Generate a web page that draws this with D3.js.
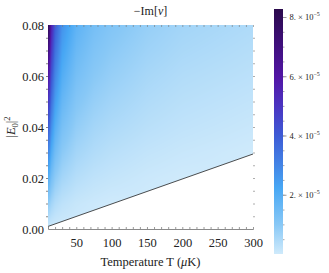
<!DOCTYPE html>
<html>
<head>
<meta charset="utf-8">
<script src="https://cdn.jsdelivr.net/npm/d3@7/dist/d3.min.js"></script>
<style>
  body { margin: 0; background: #fff; }
  svg { display: block; }
  svg text { font-family: "Liberation Serif", "DejaVu Serif", serif; }
</style>
</head>
<body>
<svg id="chart" width="329" height="273"></svg>
<script>
// temperatures (uK) of the sampled columns
const tempK = [10, 12, 15, 20, 30, 50, 75, 100, 150, 200, 300];
// |E0|^2 of the sampled rows
const e0sq = [0, 0.01, 0.02, 0.03, 0.04, 0.05, 0.06, 0.07, 0.08];
// -Im[nu] in units of 1e-5, one array per temperature (rows follow e0sq)
const imNu = [
  [0, 0.93, 1.97, 3.01, 4.05, 5.09, 6.12, 7.16, 8.2],
  [0, 0.81, 1.74, 2.67, 3.59, 4.52, 5.44, 6.37, 7.3],
  [0, 0.61, 1.32, 2.03, 2.75, 3.46, 4.17, 4.88, 5.6],
  [0, 0.41, 0.92, 1.44, 1.95, 2.46, 2.98, 3.49, 4.0],
  [0, 0.25, 0.60, 0.95, 1.30, 1.65, 2.00, 2.35, 2.7],
  [0, 0.12, 0.36, 0.60, 0.84, 1.08, 1.32, 1.56, 1.8],
  [0, 0.05, 0.23, 0.42, 0.60, 0.79, 0.98, 1.16, 1.35],
  [0, 0, 0.16, 0.31, 0.47, 0.63, 0.79, 0.94, 1.1],
  [0, 0, 0.06, 0.18, 0.31, 0.43, 0.55, 0.68, 0.8],
  [0, 0, 0, 0.10, 0.21, 0.31, 0.41, 0.52, 0.62],
  [0, 0, 0, 0, 0.09, 0.18, 0.27, 0.36, 0.45]
];
// boundary line (below it the quantity is not defined)
const edgeT = [10, 300];
const edgeE = [0.001, 0.0294];

const xTicks = [50, 100, 150, 200, 250, 300];
const yTicks = [0, 0.02, 0.04, 0.06, 0.08];
const cbTicks = [2, 4, 6, 8];
const cbMax = 8.27;

const svg = d3.select("#chart");
const x = d3.scaleLinear().domain([10, 300]).range([48, 253]);
const y = d3.scaleLinear().domain([0, 0.08]).range([229, 25]);

// colour map, light -> dark
const cStops = ["#cfeafb", "#88c8f6", "#47a7f4", "#4385e6", "#3d5cd6", "#4a35c2", "#5216a6", "#3e0f7a", "#2b0a4c"];
const cPos = [0, 0.12, 0.27, 0.36, 0.48, 0.6, 0.72, 0.86, 1];
const color = d3.scaleLinear().domain(cPos.map(p => p * cbMax)).range(cStops).clamp(true);

// look up a value in the sampled table
function valueAt(t, e) {
  let i = Math.min(Math.max(d3.bisectRight(tempK, t) - 1, 0), tempK.length - 2);
  let j = Math.min(Math.max(d3.bisectRight(e0sq, e) - 1, 0), e0sq.length - 2);
  const ft = (t - tempK[i]) / (tempK[i + 1] - tempK[i]);
  const fe = (e - e0sq[j]) / (e0sq[j + 1] - e0sq[j]);
  const a = imNu[i][j] * (1 - fe) + imNu[i][j + 1] * fe;
  const b = imNu[i + 1][j] * (1 - fe) + imNu[i + 1][j + 1] * fe;
  return a * (1 - ft) + b * ft;
}

// density image
const pw = Math.round(x.range()[1] - x.range()[0]);
const ph = Math.round(y.range()[0] - y.range()[1]);
const canvas = document.createElement("canvas");
canvas.width = pw; canvas.height = ph;
const ctx = canvas.getContext("2d");
const img = ctx.createImageData(pw, ph);
for (let py = 0; py < ph; py++) {
  const e = y.invert(y.range()[1] + py + 0.5);
  for (let px = 0; px < pw; px++) {
    const t = x.invert(x.range()[0] + px + 0.5);
    const c = d3.rgb(color(valueAt(t, e)));
    const k = (py * pw + px) * 4;
    img.data[k] = c.r; img.data[k + 1] = c.g; img.data[k + 2] = c.b; img.data[k + 3] = 255;
  }
}
ctx.putImageData(img, 0, 0);

const poly = [[edgeT[0], edgeE[0]], [edgeT[1], edgeE[1]], [300, 0.08], [10, 0.08]]
  .map(d => [x(d[0]), y(d[1])].join(",")).join(" ");
svg.append("clipPath").attr("id", "above").append("polygon").attr("points", poly);

svg.append("image")
  .attr("x", x.range()[0]).attr("y", y.range()[1])
  .attr("width", pw).attr("height", ph)
  .attr("preserveAspectRatio", "none")
  .attr("href", canvas.toDataURL())
  .attr("clip-path", "url(#above)");

svg.append("line")
  .attr("x1", x(edgeT[0])).attr("y1", y(edgeE[0]))
  .attr("x2", x(edgeT[1])).attr("y2", y(edgeE[1]))
  .attr("stroke", "#222").attr("stroke-width", 0.8);

// frame ticks
const minorX = d3.range(20, 301, 10);
const minorY = d3.range(0.005, 0.08, 0.005);
svg.append("g").attr("transform", "translate(0,229)")
  .call(d3.axisTop(x).tickValues(minorX).tickSize(2).tickFormat(""))
  .call(g => g.select(".domain").attr("stroke", "#8a8a8a"))
  .call(g => g.selectAll(".tick line").attr("stroke", "#999"));
svg.append("g").attr("transform", "translate(0,25)")
  .call(d3.axisBottom(x).tickValues(minorX).tickSize(2).tickFormat(""))
  .call(g => g.select(".domain").remove())
  .call(g => g.selectAll(".tick line").attr("stroke", "#777").attr("opacity", 0.6));
svg.append("g").attr("transform", "translate(48,0)")
  .call(d3.axisLeft(y).tickValues(minorY).tickSize(2).tickFormat(""))
  .call(g => g.select(".domain").remove())
  .call(g => g.selectAll(".tick line").attr("stroke", "#555").attr("opacity", 0.7));
svg.append("g").attr("transform", "translate(253,0)")
  .call(d3.axisRight(y).tickValues(minorY).tickSize(2).tickFormat(""))
  .call(g => g.select(".domain").remove())
  .call(g => g.selectAll(".tick line").attr("stroke", "#777").attr("opacity", 0.6));

// tick labels
const serif = "'Liberation Serif', 'DejaVu Serif', serif";
svg.append("g").attr("transform", "translate(0,229)")
  .call(d3.axisBottom(x).tickValues(xTicks).tickSize(0).tickPadding(9).tickFormat(d3.format("d")))
  .call(g => g.select(".domain").remove())
  .call(g => g.selectAll("text").attr("font-size", 12.5).style("font-family", serif).attr("fill", "#222"));
svg.append("g").attr("transform", "translate(48,0)")
  .call(d3.axisLeft(y).tickValues(yTicks).tickSize(0).tickPadding(4).tickFormat(d3.format(".2f")))
  .call(g => g.select(".domain").remove())
  .call(g => g.selectAll("text").attr("font-size", 12.5).style("font-family", serif).attr("fill", "#222"));

// titles
svg.append("text").attr("x", 150.5).attr("y", 15).attr("text-anchor", "middle")
  .attr("font-size", 12).attr("fill", "#222")
  .call(t => { t.append("tspan").text("\u2212Im["); t.append("tspan").attr("font-style", "italic").text("\u03bd"); t.append("tspan").text("]"); });
svg.append("text").attr("x", 150.5).attr("y", 266).attr("text-anchor", "middle")
  .attr("font-size", 12.5).attr("fill", "#222")
  .call(t => { t.append("tspan").text("Temperature T ("); t.append("tspan").attr("font-style", "italic").text("\u03bc"); t.append("tspan").text("K)"); });
svg.append("text").attr("transform", "translate(15,127) rotate(-90)").attr("text-anchor", "middle")
  .attr("font-size", 12.5).attr("fill", "#222")
  .call(t => {
    t.append("tspan").text("|");
    t.append("tspan").attr("font-style", "italic").text("E");
    t.append("tspan").attr("font-size", 8.5).attr("dy", 3).text("0");
    t.append("tspan").attr("dy", -3).text("|");
    t.append("tspan").attr("font-size", 8.5).attr("dy", -5).text("2");
  });

// colour bar
const cb = d3.scaleLinear().domain([0, cbMax]).range([254, 9]);
const grad = svg.append("defs").append("linearGradient").attr("id", "cbgrad")
  .attr("x1", 0).attr("y1", 1).attr("x2", 0).attr("y2", 0);
grad.selectAll("stop").data(cPos).join("stop")
  .attr("offset", d => d).attr("stop-color", (d, i) => cStops[i]);
svg.append("rect").attr("x", 274).attr("y", cb.range()[1]).attr("width", 9)
  .attr("height", cb.range()[0] - cb.range()[1]).attr("fill", "url(#cbgrad)");
svg.append("g").attr("transform", "translate(283,0)")
  .call(d3.axisRight(cb).tickValues(d3.range(0.5, cbMax, 0.5)).tickSize(1.5).tickFormat(""))
  .call(g => g.select(".domain").remove())
  .call(g => g.selectAll(".tick line").attr("stroke", "#aaa"));
svg.append("g").attr("transform", "translate(283,0)")
  .call(d3.axisRight(cb).tickValues(cbTicks).tickSize(3.5).tickPadding(3).tickFormat(""))
  .call(g => g.select(".domain").remove())
  .call(g => g.selectAll(".tick line").attr("stroke", "#999"))
  .call(g => g.selectAll(".tick text")
    .attr("font-size", 8.5).style("font-family", serif).attr("fill", "#222").attr("dy", "0.35em")
    .each(function (d) {
      const t = d3.select(this);
      t.append("tspan").text(d + ". \u00d7 10");
      t.append("tspan").attr("font-size", 6).attr("dy", -4).text("\u22125");
    }));
</script>
</body>
</html>
